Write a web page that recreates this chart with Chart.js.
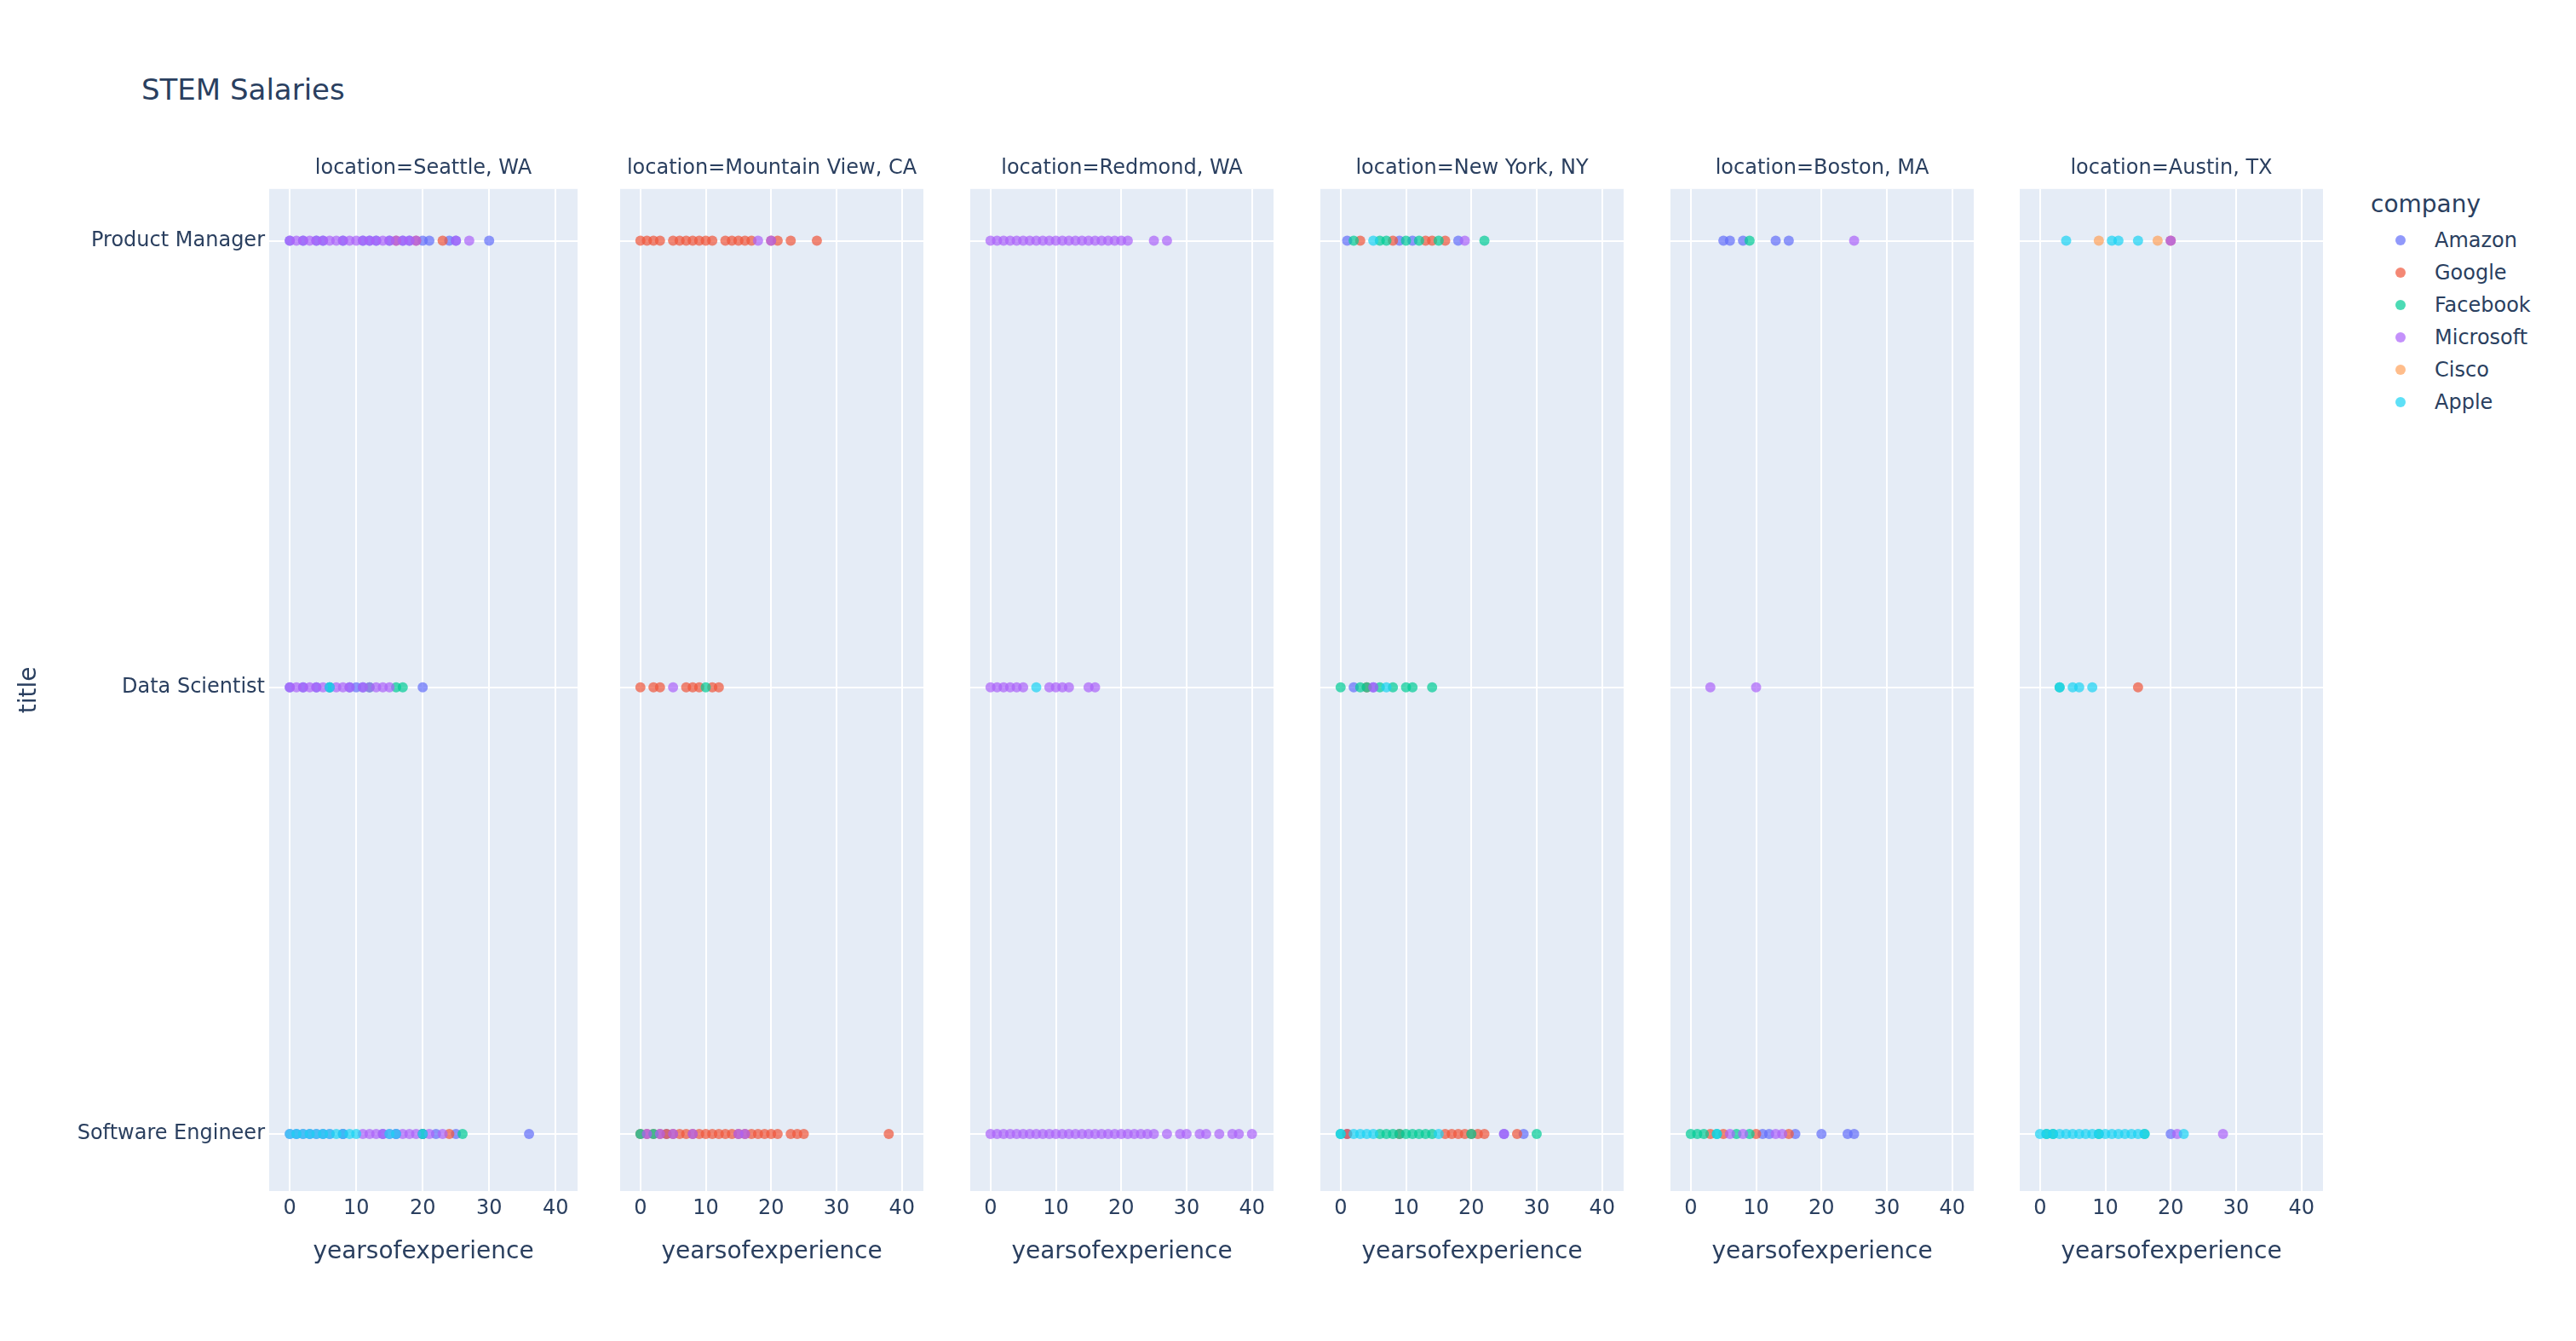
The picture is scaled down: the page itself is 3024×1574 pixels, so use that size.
<!DOCTYPE html>
<html>
<head>
<meta charset="utf-8">
<script src="https://cdn.jsdelivr.net/npm/chart.js@4.4.0/dist/chart.umd.min.js"></script>
<style>
  body { margin: 0; background: #fff; width: 3024px; height: 1574px; position: relative; overflow: hidden;
         font-family: "DejaVu Sans", sans-serif; color: #2a3f5f; }
  .panel { position: absolute; }
  #mainTitle { position: absolute; left: 166px; top: 88px; font-size: 34px; line-height: 34px; }
  #legend { position: absolute; left: 2783px; top: 226px; }
  #legend .head { font-size: 28px; line-height: 28px; margin-bottom: 9px; }
  #legend .row { display: flex; align-items: center; height: 38px; font-size: 24px; }
  #legend .dot { width: 12px; height: 12px; border-radius: 50%; margin-left: 29px; margin-right: 34px; }
</style>
</head>
<body>
<div id="mainTitle">STEM Salaries</div>
<div id="legend"></div>

<script>
// categories
var titles = ['Software Engineer', 'Data Scientist', 'Product Manager'];
var companies = ['Amazon', 'Google', 'Facebook', 'Microsoft', 'Cisco', 'Apple'];
var colors = ['99,110,250', '239,85,59', '0,204,150', '171,99,250', '255,161,90', '25,211,243'];
var locations = ['Seattle, WA', 'Mountain View, CA', 'Redmond, WA', 'New York, NY', 'Boston, MA', 'Austin, TX'];
var xTicks = [0, 10, 20, 30, 40];

// years of experience, per location and title
var seattlePM = { Amazon: [0, 2, 4, 5, 8, 11, 12, 13, 15, 17, 18, 20, 21, 24, 25, 30], Google: [16, 19, 23],
  Microsoft: [0, 1, 2, 3, 4, 5, 6, 7, 8, 9, 10, 11, 12, 13, 14, 15, 16, 17, 18, 19, 25, 27] };
var seattleDS = { Amazon: [0, 2, 4, 6, 9, 10, 11, 20], Facebook: [6, 12, 16, 17],
  Microsoft: [0, 1, 2, 3, 4, 5, 7, 8, 9, 11, 12, 13, 14, 15], Apple: [6] };
var seattleSE = { Amazon: [1, 3, 5, 8, 14, 16, 20, 22, 25, 36], Google: [20, 24], Facebook: [20, 26],
  Microsoft: [0, 2, 4, 6, 8, 11, 12, 13, 14, 15, 16, 17, 18, 19, 21, 23],
  Apple: [0, 1, 2, 3, 4, 5, 6, 7, 8, 9, 10, 15, 16, 20] };

var mvPM = { Google: [0, 1, 2, 3, 5, 6, 7, 8, 9, 10, 11, 13, 14, 15, 16, 17, 20, 21, 23, 27], Microsoft: [18, 20] };
var mvDS = { Google: [0, 2, 3, 7, 8, 9, 11, 12], Facebook: [10], Microsoft: [5] };
var mvSE = { Amazon: [4], Google: [0, 1, 2, 3, 4, 5, 6, 7, 8, 9, 10, 11, 12, 13, 14, 15, 16, 17, 18, 19, 20, 21, 23, 24, 25, 38],
  Facebook: [0, 2], Microsoft: [1, 3, 5, 8, 15, 16] };

var redmondPM = { Microsoft: [0, 1, 2, 3, 4, 5, 6, 7, 8, 9, 10, 11, 12, 13, 14, 15, 16, 17, 18, 19, 20, 21, 25, 27] };
var redmondDS = { Microsoft: [0, 1, 2, 3, 4, 5, 9, 10, 11, 12, 15, 16], Apple: [7] };
var redmondSE = { Microsoft: [0, 1, 2, 3, 4, 5, 6, 7, 8, 9, 10, 11, 12, 13, 14, 15, 16, 17, 18, 19, 20, 21, 22, 23, 24, 25,
  27, 29, 30, 32, 33, 35, 37, 38, 40] };

var nyPM = { Amazon: [1, 9, 11, 18], Google: [3, 8, 13, 14, 16], Facebook: [2, 6, 7, 10, 12, 15, 22], Microsoft: [19], Apple: [5] };
var nyDS = { Amazon: [2, 5], Google: [4], Facebook: [0, 3, 4, 6, 8, 10, 11, 14], Microsoft: [5], Apple: [7] };
var nySE = { Amazon: [1, 25, 28], Google: [1, 9, 16, 17, 18, 19, 20, 21, 22, 27],
  Facebook: [0, 6, 7, 8, 9, 10, 11, 12, 13, 14, 20, 30], Microsoft: [25], Apple: [0, 2, 3, 4, 5, 15] };

var bostonPM = { Amazon: [5, 6, 8, 13, 15], Facebook: [9], Microsoft: [25] };
var bostonDS = { Microsoft: [3, 10] };
var bostonSE = { Amazon: [11, 12, 16, 20, 24, 25], Google: [3, 5, 10, 15], Facebook: [0, 1, 2, 4, 7, 9],
  Microsoft: [6, 8, 13, 14], Apple: [4] };

var austinPM = { Google: [20], Microsoft: [20], Cisco: [9, 18], Apple: [4, 11, 12, 15] };
var austinDS = { Google: [15], Facebook: [3], Apple: [3, 5, 6, 8] };
var austinSE = { Amazon: [20], Facebook: [1, 2, 9, 16], Microsoft: [21, 28],
  Apple: [0, 1, 2, 3, 4, 5, 6, 7, 8, 9, 10, 11, 12, 13, 14, 15, 16, 22] };

// [SE, DS, PM] per location, same order as titles
var byLocation = [
  [seattleSE, seattleDS, seattlePM],
  [mvSE, mvDS, mvPM],
  [redmondSE, redmondDS, redmondPM],
  [nySE, nyDS, nyPM],
  [bostonSE, bostonDS, bostonPM],
  [austinSE, austinDS, austinPM]
];

var FONT = '"DejaVu Sans", sans-serif';
var INK = '#2a3f5f';
var panelLefts = [316, 722, 1133, 1544, 1955, 2365];
var panelWidth = 362;
var yAxisWidth = 316;
var canvasTop = 183, canvasHeight = 1304;

// panel background
var bgPlugin = {
  id: 'bg',
  beforeDraw: function (chart) {
    var a = chart.chartArea, ctx = chart.ctx;
    ctx.save();
    ctx.fillStyle = '#E5ECF6';
    ctx.fillRect(a.left, a.top, a.right - a.left, a.bottom - a.top);
    ctx.restore();
  }
};

locations.forEach(function (loc, p) {
  var first = p === 0;
  var yw = first ? yAxisWidth : 0;
  var div = document.createElement('div');
  div.className = 'panel';
  div.style.left = (panelLefts[p] - yw) + 'px';
  div.style.top = canvasTop + 'px';
  div.style.width = (yw + panelWidth + 30) + 'px';
  div.style.height = canvasHeight + 'px';
  var canvas = document.createElement('canvas');
  div.appendChild(canvas);
  document.body.appendChild(div);

  var datasets = companies.map(function (c, i) {
    var pts = [];
    byLocation[p].forEach(function (group, t) {
      (group[c] || []).forEach(function (yrs) { pts.push({ x: yrs, y: t }); });
    });
    return {
      label: c,
      data: pts,
      backgroundColor: 'rgba(' + colors[i] + ',0.7)',
      borderWidth: 0,
      pointRadius: 6,
      pointHoverRadius: 6,
      order: companies.length - i
    };
  });

  new Chart(canvas, {
    type: 'scatter',
    data: { datasets: datasets },
    plugins: [bgPlugin],
    options: {
      responsive: true,
      maintainAspectRatio: false,
      animation: false,
      layout: { padding: { left: 0, right: 30, top: 0, bottom: 0 } },
      plugins: {
        legend: { display: false },
        tooltip: { enabled: false },
        title: {
          display: true, text: 'location=' + loc, color: INK, fullSize: false,
          font: { family: FONT, size: 24, weight: 'normal' }, padding: { top: 0, bottom: 10 }
        }
      },
      scales: {
        x: {
          type: 'linear', min: -3.1, max: 43.3,
          afterBuildTicks: function (s) { s.ticks = xTicks.map(function (v) { return { value: v }; }); },
          afterFit: function (s) { s.height = 89; },
          grid: { color: '#ffffff', lineWidth: 2, drawTicks: false },
          border: { display: false },
          ticks: { color: INK, font: { family: FONT, size: 24 }, padding: 6, autoSkip: false, maxRotation: 0 },
          title: { display: true, text: 'yearsofexperience', color: INK, font: { family: FONT, size: 28 }, padding: { top: 0, bottom: 0 } }
        },
        y: {
          type: 'linear', min: -0.128, max: 2.116,
          afterBuildTicks: function (s) { s.ticks = [0, 1, 2].map(function (v) { return { value: v }; }); },
          afterFit: function (s) { s.width = yw; },
          grid: { color: '#ffffff', lineWidth: 2, drawTicks: false },
          border: { display: false },
          ticks: {
            display: first, color: INK, font: { family: FONT, size: 24 }, padding: 5,
            callback: function (v) { return titles[v]; }
          },
          title: { display: first, text: 'title', color: INK, font: { family: FONT, size: 28 }, padding: { top: 18, bottom: 0 } }
        }
      }
    }
  });
});

// legend
var legend = document.getElementById('legend');
var head = document.createElement('div');
head.className = 'head';
head.textContent = 'company';
legend.appendChild(head);
companies.forEach(function (c, i) {
  var row = document.createElement('div');
  row.className = 'row';
  var dot = document.createElement('span');
  dot.className = 'dot';
  dot.style.background = 'rgba(' + colors[i] + ',0.7)';
  var label = document.createElement('span');
  label.textContent = c;
  row.appendChild(dot);
  row.appendChild(label);
  legend.appendChild(row);
});
</script>
</body>
</html>
